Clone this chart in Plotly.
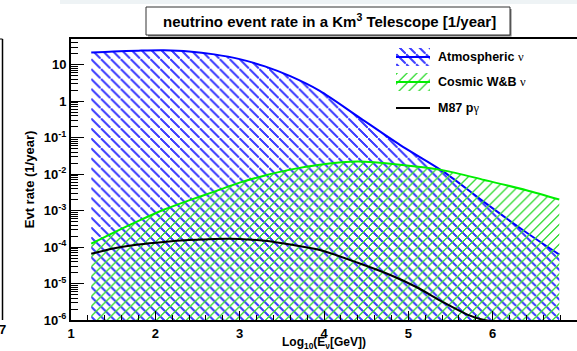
import plotly.graph_objects as go

# ---- data ----
log10_E = [1.24, 1.5, 1.8, 2.1, 2.4, 2.7, 3.0, 3.3, 3.6, 3.95, 4.4, 4.9, 5.42, 5.9, 6.4, 6.79]
atmospheric = [21.4, 22.9, 24.0, 24.5, 22.9, 19.0, 14.1, 8.9, 4.8, 1.9, 0.38, 0.063, 0.0115, 0.0017, 2.5e-4, 6.2e-5]
cosmic_wb = [1.23e-4, 2.45e-4, 5.2e-4, 1.05e-3, 1.9e-3, 3.3e-3, 5.8e-3, 9.1e-3, 0.0132, 0.018, 0.0219, 0.018, 0.0126, 6.9e-3, 3.6e-3, 2.0e-3]

m87_log10_E = [1.24, 1.5, 1.8, 2.1, 2.4, 2.7, 3.0, 3.3, 3.6, 3.95, 4.4, 4.8, 5.1, 5.4, 5.7, 5.9, 6.2, 6.79]
m87_pgamma = [6.5e-5, 9.1e-5, 1.17e-4, 1.38e-4, 1.55e-4, 1.66e-4, 1.66e-4, 1.48e-4, 1.17e-4, 8.3e-5,
              3.7e-5, 1.66e-5, 7.9e-6, 3.2e-6, 1.41e-6, 1.0e-6, 8.3e-7, 7.1e-7]

NU = "<span style='font-family:Liberation Serif;font-weight:normal'>ν</span>"
GAMMA = "<span style='font-family:Liberation Serif;font-weight:normal'>γ</span>"
series_names = ["Atmospheric " + NU, "Cosmic W&B " + NU, "M87 p" + GAMMA]

y_tickvals = [1e-6, 1e-5, 1e-4, 1e-3, 1e-2, 1e-1, 1, 10]
y_ticktext = ["10<sup>-6</sup>", "10<sup>-5</sup>", "10<sup>-4</sup>", "10<sup>-3</sup>",
              "10<sup>-2</sup>", "10<sup>-1</sup>", "1", "10"]
x_tickvals = [1, 2, 3, 4, 5, 6, 7]

title_text = "neutrino event rate in a Km<sup>3</sup> Telescope [1/year]"

# ---- layout geometry ----
W, H = 577, 351
L, R, T, B = 71, 0, 39, 31
PW, PH = W - L - R, H - T - B

def px(xp):
    return (xp - L) / PW

def py(yp):
    return (H - B - yp) / PH

FONT = "Liberation Sans"
BLUE, BLUE_H = "#0000ff", "#4040ff"
GREEN, GREEN_H = "#00ee00", "#3ddd3d"
HATCH_SIZE, HATCH_SOLID = 7, 0.2

def hatch(shape, color):
    return dict(shape=shape, fgcolor=color, bgcolor="rgba(0,0,0,0)", fgopacity=1,
                size=HATCH_SIZE, solidity=HATCH_SOLID)

fig = go.Figure()

fig.add_trace(go.Scatter(
    x=log10_E, y=atmospheric, mode="lines", showlegend=False,
    line=dict(color=BLUE, width=2, shape="spline", smoothing=0.8),
    fill="tozeroy", fillcolor="rgba(0,0,0,0)", fillpattern=hatch("\\", BLUE_H),
))
fig.add_trace(go.Scatter(
    x=log10_E, y=cosmic_wb, mode="lines", showlegend=False,
    line=dict(color=GREEN, width=2, shape="spline", smoothing=0.8),
    fill="tozeroy", fillcolor="rgba(0,0,0,0)", fillpattern=hatch("/", GREEN_H),
))
fig.add_trace(go.Scatter(
    x=m87_log10_E, y=m87_pgamma, mode="lines", showlegend=False,
    line=dict(color="black", width=2, shape="spline", smoothing=0.8),
))

# ---- legend drawn on an overlay axis (units = screen pixels) ----
leg_rows = [57, 82, 108]
leg_box = [(48, 66), (73, 91)]
fig.add_trace(go.Scatter(x=[0, 1, 1, 0, 0], y=[leg_box[0][0]] * 2 + [leg_box[0][1]] * 2 + [leg_box[0][0]],
                         xaxis="x2", yaxis="y2", mode="lines", line=dict(width=0), showlegend=False,
                         fill="toself", fillcolor="rgba(0,0,0,0)", fillpattern=hatch("\\", BLUE_H)))
fig.add_trace(go.Scatter(x=[0, 1], y=[leg_rows[0]] * 2, xaxis="x2", yaxis="y2", mode="lines",
                         line=dict(color=BLUE, width=2), showlegend=False))
fig.add_trace(go.Scatter(x=[0, 1, 1, 0, 0], y=[leg_box[1][0]] * 2 + [leg_box[1][1]] * 2 + [leg_box[1][0]],
                         xaxis="x2", yaxis="y2", mode="lines", line=dict(width=0), showlegend=False,
                         fill="toself", fillcolor="rgba(0,0,0,0)", fillpattern=hatch("/", GREEN_H)))
fig.add_trace(go.Scatter(x=[0, 1], y=[leg_rows[1]] * 2, xaxis="x2", yaxis="y2", mode="lines",
                         line=dict(color=GREEN, width=2), showlegend=False))
fig.add_trace(go.Scatter(x=[0, 1], y=[leg_rows[2]] * 2, xaxis="x2", yaxis="y2", mode="lines",
                         line=dict(color="black", width=2), showlegend=False))

shapes = [
    dict(type="rect", xref="paper", yref="paper", x0=px(60), x1=px(W), y0=py(0), y1=py(4),
         fillcolor="#eef3f5", line=dict(width=0), layer="below"),
    dict(type="rect", xref="paper", yref="paper", x0=px(148), x1=px(511.5), y0=py(36.5), y1=py(9),
         fillcolor="#777777", line=dict(width=0)),
    dict(type="rect", xref="paper", yref="paper", x0=px(146), x1=px(510), y0=py(35), y1=py(7),
         fillcolor="white", line=dict(color="#333333", width=1)),
    dict(type="line", xref="paper", yref="paper", x0=px(2.5), x1=px(2.5), y0=py(39), y1=py(320),
         line=dict(color="black", width=1.5)),
    dict(type="line", xref="paper", yref="paper", x0=px(0), x1=px(2.5), y0=py(39), y1=py(39),
         line=dict(color="black", width=1)),
]

annotations = [
    dict(text="<b>" + title_text + "</b>", xref="paper", yref="paper", x=px(329), y=py(21),
         showarrow=False, font=dict(family=FONT, size=15, color="black"), xanchor="center", yanchor="middle"),
    dict(text="<b>7</b>", xref="paper", yref="paper", x=px(2), y=py(329),
         showarrow=False, font=dict(family=FONT, size=13, color="black"), xanchor="center", yanchor="middle"),
]
for name, row in zip(series_names, leg_rows):
    annotations.append(dict(text="<b>" + name + "</b>", xref="paper", yref="paper", x=px(436), y=py(row),
                            showarrow=False, xanchor="left", yanchor="middle",
                            font=dict(family=FONT, size=12.5, color="black")))

fig.update_layout(
    width=W, height=H,
    margin=dict(l=L, r=R, t=T, b=B, autoexpand=False),
    paper_bgcolor="white", plot_bgcolor="rgba(0,0,0,0)",
    font=dict(family=FONT, color="black"),
    shapes=shapes, annotations=annotations,
    showlegend=False,
    xaxis=dict(range=[1, 7], tickvals=x_tickvals, ticks="inside", ticklen=9, tickwidth=1,
               tickcolor="black", showline=True, linecolor="black", linewidth=2, mirror=True,
               showgrid=False, zeroline=False,
               tickfont=dict(family=FONT, size=13, weight="bold"),
               minor=dict(dtick=0.2, ticks="inside", ticklen=5, tickcolor="black", showgrid=False),
               title=dict(text="<b>Log<sub>10</sub>(E<sub>ν</sub>[GeV])</b>", standoff=2,
                          font=dict(family=FONT, size=12))),
    yaxis=dict(type="log", range=[-6, 1.7], tickvals=y_tickvals, ticktext=y_ticktext,
               ticks="inside", ticklen=13, tickwidth=1, tickcolor="black",
               showline=True, linecolor="black", linewidth=2, mirror=True,
               showgrid=False, zeroline=False,
               tickfont=dict(family=FONT, size=13, weight="bold"),
               minor=dict(dtick="D1", ticks="inside", ticklen=7, tickcolor="black", showgrid=False),
               title=dict(text="<b>Evt rate (1/year)</b>", standoff=6,
                          font=dict(family=FONT, size=13))),
    xaxis2=dict(domain=[px(396), px(430)], range=[0, 1], anchor="y2", visible=False, fixedrange=True),
    yaxis2=dict(domain=[py(120), py(44)], range=[120, 44], anchor="x2", visible=False, fixedrange=True),
)

# render the hatch lines aliased (like the original raster output)
crisp_js = """
function crispHatch(){
  document.querySelectorAll('pattern path, pattern line').forEach(function(p){
    p.setAttribute('shape-rendering','crispEdges');
  });
}
crispHatch(); setTimeout(crispHatch, 0); setTimeout(crispHatch, 200);
"""
fig.write_html("out.html", post_script=crisp_js)
